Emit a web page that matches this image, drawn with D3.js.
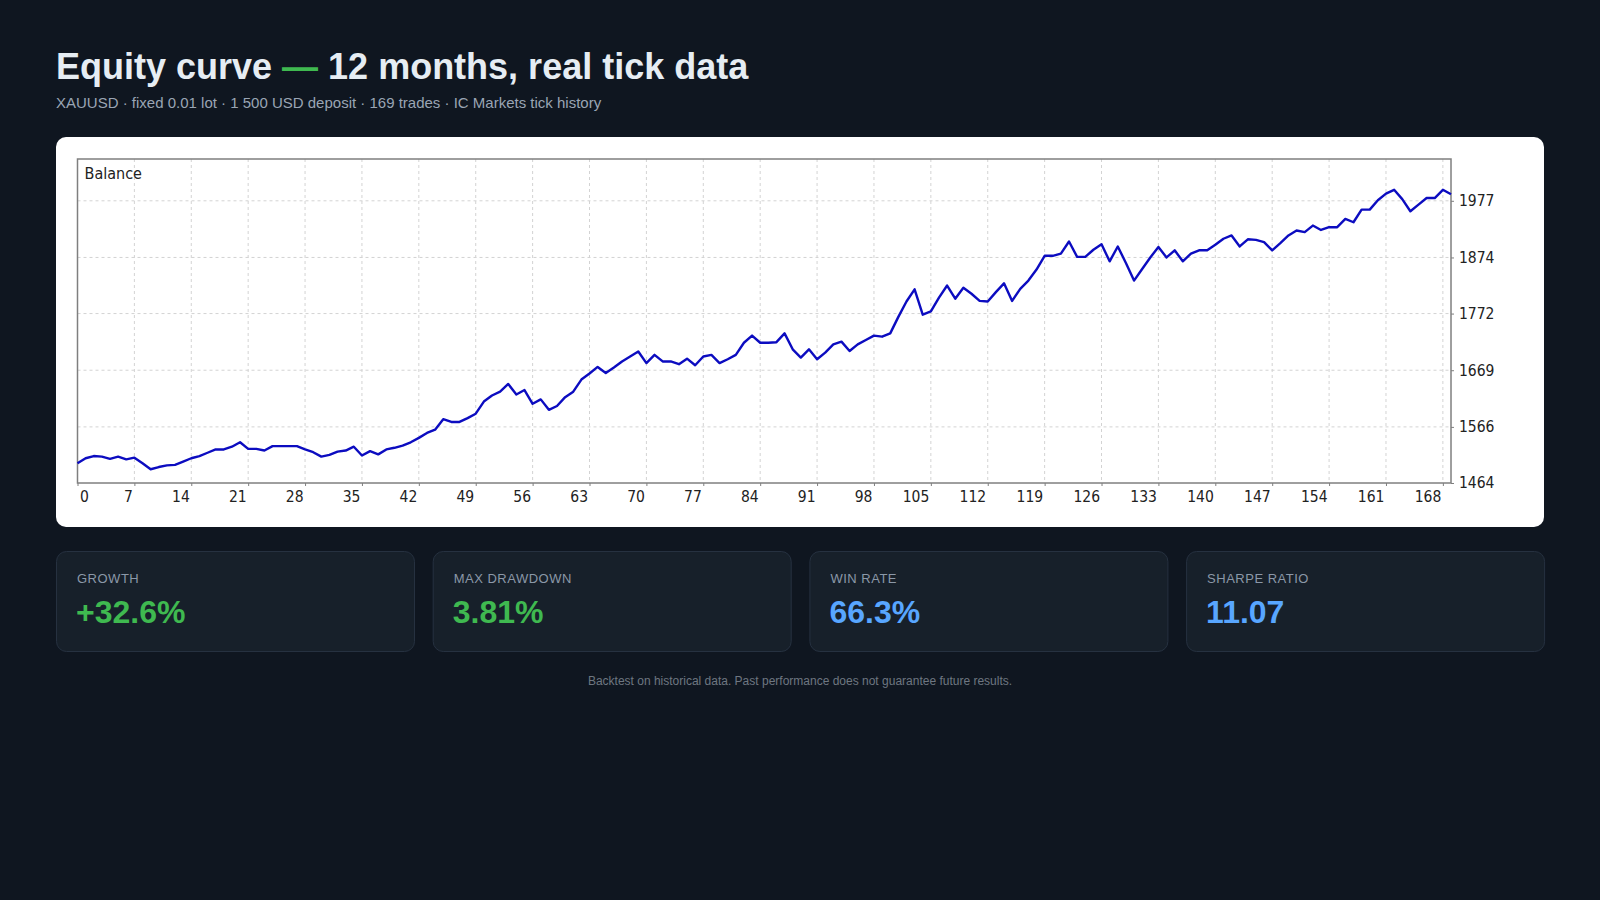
<!DOCTYPE html>
<html>
<head>
<meta charset="utf-8">
<script src="https://cdn.jsdelivr.net/npm/d3@7"></script>
<style>
  html, body { margin: 0; padding: 0; background: #0f1620; }
  svg { display: block; }
</style>
</head>
<body>
<svg id="chart" width="1600" height="900"></svg>
<script>
// balance after each trade (trade 0 = deposit)
const balance = [
  1500, 1509, 1513, 1512, 1508, 1512, 1507, 1510, 1500, 1489,
  1493, 1496, 1497, 1503, 1509, 1513, 1519, 1525, 1525, 1530,
  1538, 1526, 1526, 1523, 1531, 1531, 1531, 1531, 1525, 1520,
  1512, 1515, 1521, 1523, 1530, 1514, 1522, 1516, 1525, 1528,
  1532, 1538, 1546, 1555, 1561, 1580, 1575, 1575, 1582, 1590,
  1612, 1623, 1630, 1644, 1625, 1633, 1608, 1616, 1597, 1604,
  1620, 1630, 1652, 1663, 1675, 1664, 1674, 1685, 1694, 1703,
  1682, 1697, 1685, 1685, 1680, 1690, 1678, 1694, 1697, 1682,
  1689, 1697, 1719, 1732, 1719, 1719, 1720, 1736, 1707, 1692,
  1707, 1689, 1701, 1716, 1721, 1704, 1716, 1724, 1732, 1730,
  1736, 1766, 1794, 1816, 1770, 1776, 1801, 1823, 1799, 1819,
  1808, 1795, 1794, 1811, 1827, 1795, 1817, 1832, 1852, 1877,
  1877, 1881, 1903, 1875, 1875, 1888, 1898, 1867, 1894, 1864,
  1832, 1853, 1874, 1893, 1874, 1887, 1867, 1881, 1887, 1887,
  1897, 1908, 1914, 1894, 1907, 1906, 1902, 1887, 1900, 1914,
  1923, 1920, 1932, 1924, 1929, 1929, 1944, 1938, 1961, 1961,
  1978, 1990, 1997, 1980, 1958, 1970, 1982, 1982, 1997, 1989
];

const xTicks = [0, 7, 14, 21, 28, 35, 42, 49, 56, 63, 70, 77, 84, 91, 98, 105, 112, 119, 126, 133, 140, 147, 154, 161, 168];
const yTicks = [1464, 1566, 1669, 1772, 1874, 1977];
const yTop = 2053;

const statLabels = ["GROWTH", "MAX DRAWDOWN", "WIN RATE", "SHARPE RATIO"];
const statValues = ["+32.6%", "3.81%", "66.3%", "11.07"];
const statColors = ["#3fb950", "#3fb950", "#58a6ff", "#58a6ff"];

const svg = d3.select("#chart");
const sans = "'Liberation Sans', Arial, Helvetica, sans-serif";
const mtFont = "'DejaVu Sans Condensed', 'DejaVu Sans', sans-serif";

// heading
const title = svg.append("text")
  .attr("x", 56).attr("y", 79)
  .attr("font-family", sans).attr("font-size", 36).attr("font-weight", "bold")
  .attr("fill", "#e6edf3");
title.append("tspan").text("Equity curve ");
title.append("tspan").attr("fill", "#3fb950").text("—");
title.append("tspan").text(" 12 months, real tick data");

svg.append("text")
  .attr("x", 56).attr("y", 108)
  .attr("font-family", sans).attr("font-size", 15)
  .attr("fill", "#9aa5b4")
  .text("XAUUSD · fixed 0.01 lot · 1 500 USD deposit · 169 trades · IC Markets tick history");

// white card holding the chart
svg.append("rect")
  .attr("x", 56).attr("y", 137).attr("width", 1488).attr("height", 390)
  .attr("rx", 10).attr("fill", "#ffffff");

const plot = { left: 77.5, right: 1451, top: 159, bottom: 483 };

const x = d3.scaleLinear()
  .domain([0, balance.length - 1])
  .range([plot.left, plot.right]);

const y = d3.scaleLinear()
  .domain([yTicks[0], yTop])
  .range([plot.bottom, plot.top]);

const g = svg.append("g");

// grid
g.append("g")
  .selectAll("line")
  .data(xTicks.filter(d => d > 0))
  .enter().append("line")
    .attr("x1", d => x(d)).attr("x2", d => x(d))
    .attr("y1", plot.top).attr("y2", plot.bottom)
    .attr("stroke", "#d3d3d3").attr("stroke-dasharray", "3,3");

g.append("g")
  .selectAll("line")
  .data(yTicks.slice(1))
  .enter().append("line")
    .attr("x1", plot.left).attr("x2", plot.right)
    .attr("y1", d => y(d)).attr("y2", d => y(d))
    .attr("stroke", "#d3d3d3").attr("stroke-dasharray", "3,3");

// axes
const xAxis = d3.axisBottom(x).tickValues(xTicks).tickSize(3).tickPadding(5).tickFormat(d3.format("d"));
const xg = g.append("g")
  .attr("transform", `translate(0,${plot.bottom})`)
  .call(xAxis);
xg.select(".domain").remove();
xg.selectAll("line").attr("stroke", "#7f7f7f");
xg.selectAll("text")
  .attr("font-family", mtFont).attr("font-size", 15.5).attr("fill", "#222")
  .attr("text-anchor", d => d === 0 ? "start" : "end")
  .attr("dx", d => d === 0 ? 2 : -2);

const yAxis = d3.axisRight(y).tickValues(yTicks).tickSize(3).tickPadding(5).tickFormat(d3.format("d"));
const yg = g.append("g")
  .attr("transform", `translate(${plot.right},0)`)
  .call(yAxis);
yg.select(".domain").remove();
yg.selectAll("line").attr("stroke", "#7f7f7f");
yg.selectAll("text")
  .attr("font-family", mtFont).attr("font-size", 15.5).attr("fill", "#222");

// plot frame
g.append("rect")
  .attr("x", plot.left).attr("y", plot.top)
  .attr("width", plot.right - plot.left).attr("height", plot.bottom - plot.top)
  .attr("fill", "none").attr("stroke", "#7f7f7f").attr("stroke-width", 1.5);

g.append("text")
  .attr("x", plot.left + 7).attr("y", plot.top + 20)
  .attr("font-family", mtFont).attr("font-size", 16).attr("fill", "#222")
  .text("Balance");

// balance line
const line = d3.line()
  .x((d, i) => x(i))
  .y(d => y(d));

g.append("path")
  .datum(balance)
  .attr("d", line)
  .attr("fill", "none")
  .attr("stroke", "#0c0cc0")
  .attr("stroke-width", 2.4)
  .attr("stroke-linejoin", "round");

// stat cards
const cardW = 358, cardGap = 18.7;
const cards = svg.append("g")
  .selectAll("g")
  .data(statLabels)
  .enter().append("g")
    .attr("transform", (d, i) => `translate(${56 + i * (cardW + cardGap)},551)`);

cards.append("rect")
  .attr("x", 0.5).attr("y", 0.5)
  .attr("width", cardW).attr("height", 100)
  .attr("rx", 10)
  .attr("fill", "#17202a").attr("stroke", "#263140");

cards.append("text")
  .attr("x", 21).attr("y", 32)
  .attr("font-family", sans).attr("font-size", 13)
  .attr("letter-spacing", 0.5)
  .attr("fill", "#8b98a8")
  .text(d => d);

cards.append("text")
  .attr("x", 20).attr("y", 72)
  .attr("font-family", sans).attr("font-size", 32).attr("font-weight", "bold")
  .attr("fill", (d, i) => statColors[i])
  .text((d, i) => statValues[i]);

svg.append("text")
  .attr("x", 800).attr("y", 685)
  .attr("text-anchor", "middle")
  .attr("font-family", sans).attr("font-size", 12)
  .attr("fill", "#6e7681")
  .text("Backtest on historical data. Past performance does not guarantee future results.");
</script>
</body>
</html>
